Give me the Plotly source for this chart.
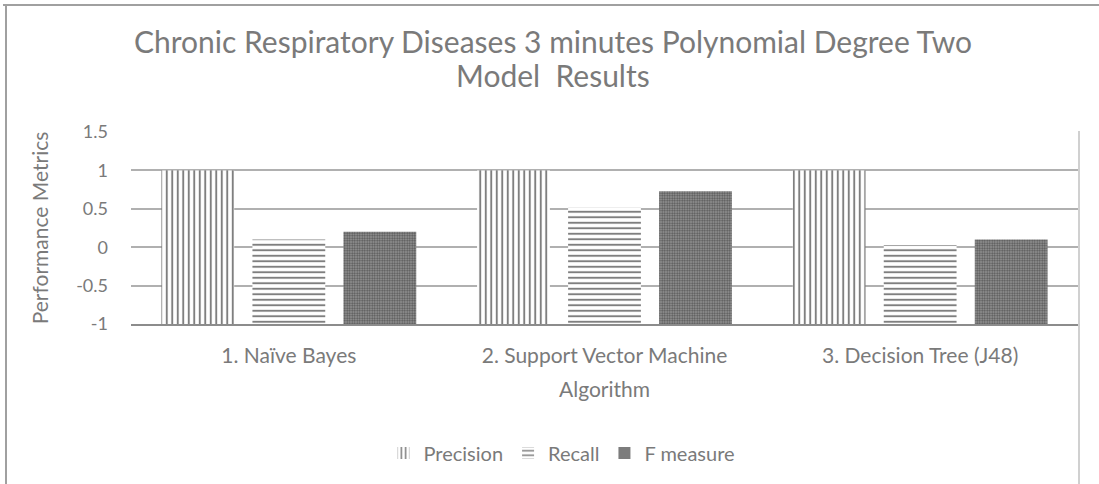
import plotly.graph_objects as go

# Data
algorithms = ["1. Naïve Bayes", "2. Support Vector Machine", "3. Decision Tree (J48)"]
precision = [1.0, 1.0, 1.0]
recall = [0.10, 0.52, 0.03]
f_measure = [0.20, 0.73, 0.10]

y_ticks = [-1, -0.5, 0, 0.5, 1, 1.5]
y_tick_text = ["-1", "-0.5", "0", "0.5", "1", "1.5"]

title_line1 = "Chronic Respiratory Diseases 3 minutes Polynomial Degree Two"
title_line2 = "Model&nbsp;&nbsp;Results"

AXIS_MIN = -1  # bars are drawn up from the bottom of the value axis, like Excel

# Layout (pixels)
W, H = 1099, 484
L, R, T, B = 131, 21, 132, 160
TEXT = "#7a7a7a"
FONT = "Lato"


def px_x(x):
    return (x - L) / (W - L - R)


def px_y(y):
    return (H - B - y) / (H - T - B)


series = [
    ("Precision", precision, "|"),
    ("Recall", recall, "-"),
    ("F measure", f_measure, "."),
]

fig = go.Figure()
for name, vals, shape in series:
    pattern = dict(shape=shape, fgcolor="black", bgcolor="white", size=5.5, solidity=0.35)
    if shape == ".":
        pattern = dict(shape=".", fgcolor="#111111", bgcolor="#9a9a9a", size=2.5, solidity=0.5)
    fig.add_trace(go.Bar(
        x=algorithms,
        y=[v - AXIS_MIN for v in vals],
        base=AXIS_MIN,
        name=name,
        marker=dict(color="white", pattern=pattern, line=dict(width=0)),
        hovertemplate="%{x}<br>" + name + ": %{customdata}<extra></extra>",
        customdata=vals,
    ))

fig.update_layout(
    width=W, height=H,
    margin=dict(l=L, r=R, t=T, b=B, autoexpand=False),
    paper_bgcolor="white",
    plot_bgcolor="white",
    barmode="group",
    bargap=0.135,
    bargroupgap=0.2,
    font=dict(family=FONT, color=TEXT, size=21),
    title=dict(
        text=title_line1,
        x=553 / W, xanchor="center",
        y=1 - 32 / H, yanchor="top",
        font=dict(family=FONT, size=30, color=TEXT),
    ),
    annotations=[
        dict(text=title_line2, xref="paper", yref="paper",
             x=px_x(553), xanchor="center", y=px_y(55), yanchor="top",
             showarrow=False, font=dict(family=FONT, size=30, color=TEXT)),
    ],
    xaxis=dict(
        title=dict(text="Algorithm", font=dict(size=21, color=TEXT), standoff=16),
        showline=True, linecolor="#8c8c8c", linewidth=2,
        ticks="", ticklabelstandoff=12,
        tickfont=dict(size=21, color=TEXT),
        showgrid=False, automargin=False,
    ),
    yaxis=dict(
        title=dict(text="Performance Metrics", font=dict(size=21, color=TEXT), standoff=21),
        range=[-1, 1.5],
        tickvals=y_ticks, ticktext=y_tick_text,
        tickfont=dict(size=18, color=TEXT),
        showgrid=True, gridcolor="#b0b0b0", gridwidth=1.5,
        zeroline=False, ticks="", ticklabelstandoff=22,
        automargin=False,
    ),
    legend=dict(
        orientation="h",
        x=px_x(562), xanchor="center",
        y=px_y(453), yanchor="middle",
        font=dict(size=20, color=TEXT),
        itemwidth=30,
        traceorder="normal",
    ),
    shapes=[
        # chart frame pieces visible in the reference crop
        dict(type="line", xref="paper", yref="paper",
             x0=px_x(3), x1=px_x(W), y0=px_y(5), y1=px_y(5),
             line=dict(color="#a0a0a0", width=2)),
        dict(type="line", xref="paper", yref="paper",
             x0=px_x(6), x1=px_x(6), y0=px_y(5), y1=px_y(H),
             line=dict(color="#a0a0a0", width=2)),
        dict(type="line", xref="paper", yref="paper",
             x0=px_x(1079), x1=px_x(1079), y0=px_y(131), y1=px_y(H),
             line=dict(color="#c0c0c0", width=1.5)),
    ],
)

# drop the browser's default body margin so the figure sits at the page origin
fig.write_html("out.html", config={"displayModeBar": False},
               post_script="document.body.style.margin = '0';")
